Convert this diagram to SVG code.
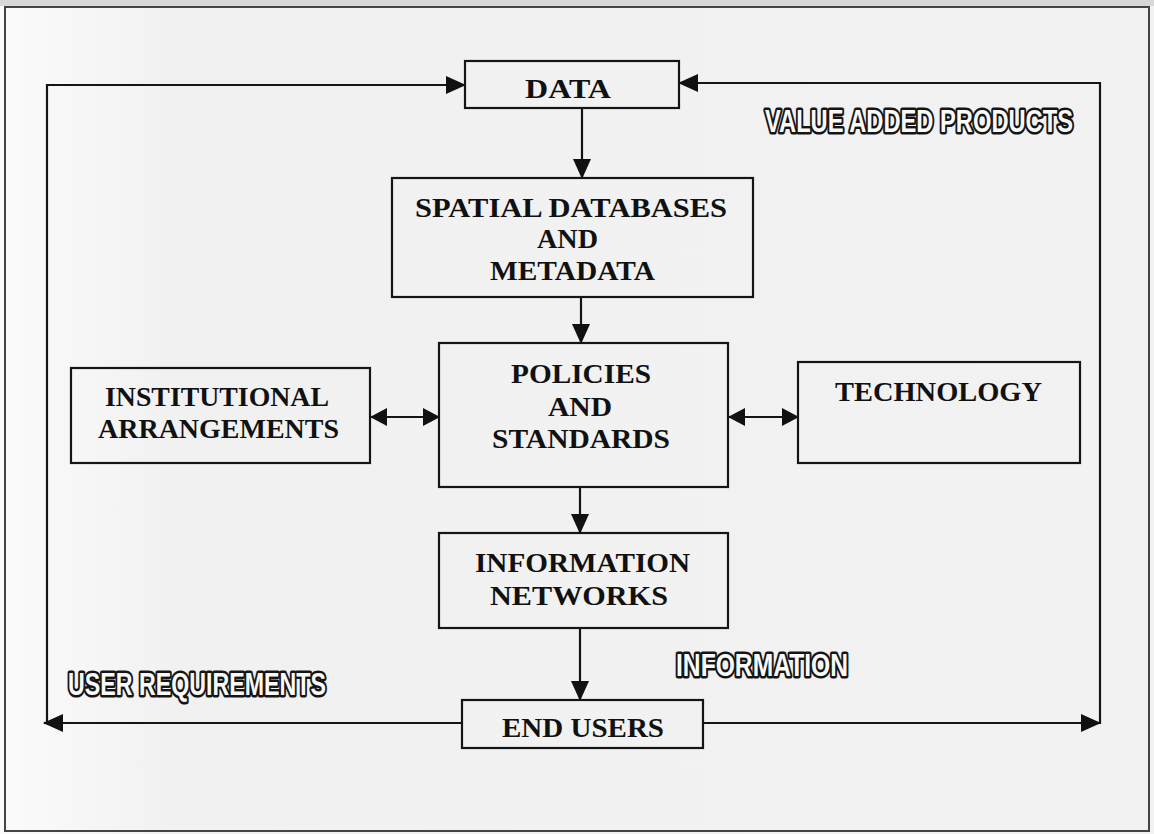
<svg xmlns="http://www.w3.org/2000/svg" width="1154" height="834" viewBox="0 0 1154 834">
  <defs>
    <linearGradient id="bg" x1="0" y1="0" x2="1" y2="0">
      <stop offset="0" stop-color="#fbfbfb"/>
      <stop offset="0.15" stop-color="#f1f1f1"/>
      <stop offset="1" stop-color="#f2f2f2"/>
    </linearGradient>
    <marker id="ah" markerUnits="userSpaceOnUse" markerWidth="20" markerHeight="18" viewBox="0 0 20 18" refX="19" refY="9" orient="auto-start-reverse">
      <path d="M0,0 L20,9 L0,18 z" fill="#111"/>
    </marker>
    <marker id="ahs" markerUnits="userSpaceOnUse" markerWidth="17" markerHeight="18" viewBox="0 0 17 18" refX="16" refY="9" orient="auto-start-reverse">
      <path d="M0,0 L17,9 L0,18 z" fill="#111"/>
    </marker>
  </defs>
  <style>
    .box { fill: none; stroke: #151515; stroke-width: 2.2; }
    .t { font-family: "Liberation Serif", "Times New Roman", serif; font-weight: bold; font-size: 28px; fill: #111; }
    .o { font-family: "Liberation Sans Narrow", "Liberation Sans", "Arial Narrow", sans-serif; font-weight: bold; font-size: 28px; fill: #fafafa; stroke: #151515; stroke-width: 4.5; paint-order: stroke; stroke-linejoin: round; }
    .c { fill: none; stroke: #151515; stroke-width: 2.2; }
  </style>
  <rect x="0" y="0" width="1154" height="834" fill="url(#bg)"/>
  <rect x="0" y="0" width="1154" height="6" fill="#d8d8d8"/>
  <rect x="5" y="7" width="1144" height="824" fill="none" stroke="#444" stroke-width="2"/>

  <g id="connectors">
    <line class="c" x1="582" y1="108" x2="582" y2="178" marker-end="url(#ah)"/>
    <line class="c" x1="581" y1="297" x2="581" y2="343" marker-end="url(#ah)"/>
    <line class="c" x1="580" y1="487" x2="580" y2="533" marker-end="url(#ah)"/>
    <line class="c" x1="580" y1="628" x2="580" y2="700" marker-end="url(#ah)"/>
    <line class="c" x1="371" y1="417" x2="439" y2="417" marker-start="url(#ahs)" marker-end="url(#ahs)"/>
    <line class="c" x1="729" y1="417" x2="798" y2="417" marker-start="url(#ahs)" marker-end="url(#ahs)"/>
    <polyline class="c" points="462,723 47,723 47,85 465,85" marker-end="url(#ah)"/>
    <line class="c" x1="47" y1="723" x2="44" y2="723" marker-end="url(#ah)"/>
    <polyline class="c" points="703,723 1100,723 1100,83 679,83" marker-end="url(#ah)"/>
    <line class="c" x1="1080" y1="723" x2="1100" y2="723" marker-end="url(#ah)"/>
  </g>

  <g id="data">
    <rect class="box" x="465" y="61" width="214" height="47"/>
    <text class="t" x="525" y="98" textLength="86" lengthAdjust="spacingAndGlyphs">DATA</text>
  </g>
  <g id="spatial">
    <rect class="box" x="392" y="178" width="361" height="119"/>
    <text class="t" x="415" y="217" textLength="312" lengthAdjust="spacingAndGlyphs">SPATIAL DATABASES</text>
    <text class="t" x="537" y="248" textLength="61" lengthAdjust="spacingAndGlyphs">AND</text>
    <text class="t" x="490" y="280" textLength="165" lengthAdjust="spacingAndGlyphs">METADATA</text>
  </g>
  <g id="policies">
    <rect class="box" x="439" y="343" width="289" height="144"/>
    <text class="t" x="511" y="383" textLength="140" lengthAdjust="spacingAndGlyphs">POLICIES</text>
    <text class="t" x="548" y="416" textLength="64" lengthAdjust="spacingAndGlyphs">AND</text>
    <text class="t" x="492" y="448" textLength="178" lengthAdjust="spacingAndGlyphs">STANDARDS</text>
  </g>
  <g id="institutional">
    <rect class="box" x="71" y="368" width="299" height="95"/>
    <text class="t" x="105" y="406" textLength="224" lengthAdjust="spacingAndGlyphs">INSTITUTIONAL</text>
    <text class="t" x="98" y="438" textLength="241" lengthAdjust="spacingAndGlyphs">ARRANGEMENTS</text>
  </g>
  <g id="technology">
    <rect class="box" x="798" y="362" width="282" height="101"/>
    <text class="t" x="835" y="401" textLength="207" lengthAdjust="spacingAndGlyphs">TECHNOLOGY</text>
  </g>
  <g id="networks">
    <rect class="box" x="439" y="533" width="289" height="95"/>
    <text class="t" x="475" y="572" textLength="215" lengthAdjust="spacingAndGlyphs">INFORMATION</text>
    <text class="t" x="490" y="605" textLength="178" lengthAdjust="spacingAndGlyphs">NETWORKS</text>
  </g>
  <g id="endusers">
    <rect class="box" x="462" y="700" width="241" height="48"/>
    <text class="t" x="502" y="737" textLength="162" lengthAdjust="spacingAndGlyphs">END USERS</text>
  </g>

  <g id="labels">
    <text class="o" transform="translate(765,132) scale(1,1.15)" x="0" y="0" textLength="308" lengthAdjust="spacingAndGlyphs">VALUE ADDED PRODUCTS</text>
    <text class="o" transform="translate(68,695) scale(1,1.15)" x="0" y="0" textLength="258" lengthAdjust="spacingAndGlyphs">USER REQUIREMENTS</text>
    <text class="o" transform="translate(676,676) scale(1,1.15)" x="0" y="0" textLength="172" lengthAdjust="spacingAndGlyphs">INFORMATION</text>
  </g>
</svg>
